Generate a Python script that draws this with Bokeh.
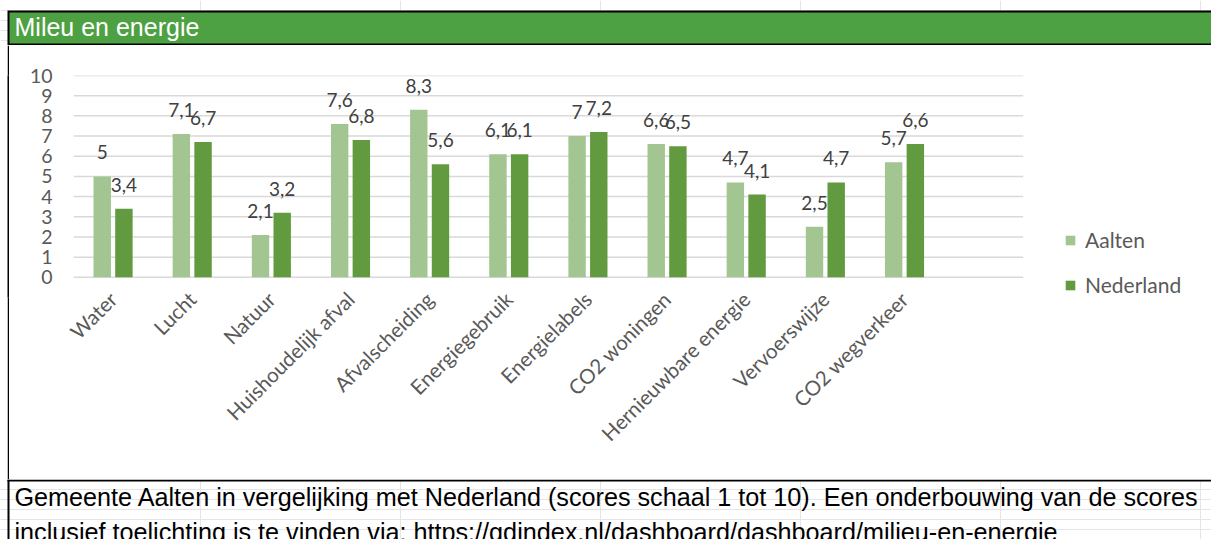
from math import pi
from bokeh.plotting import figure
from bokeh.models import (ColumnDataSource, FactorRange, Range1d, FixedTicker, Legend,
                          LegendItem, Spacer)
from bokeh.transform import dodge
from bokeh.layouts import row, column
from bokeh.core.properties import value
from bokeh.embed import file_html
from bokeh.resources import INLINE

# ---------------- data ----------------
categories = ["Water", "Lucht", "Natuur", "Huishoudelijk afval", "Afvalscheiding",
              "Energiegebruik", "Energielabels", "CO2 woningen", "Hernieuwbare energie",
              "Vervoerswijze", "CO2 wegverkeer"]
aalten = [5, 7.1, 2.1, 7.6, 8.3, 6.1, 7, 6.6, 4.7, 2.5, 5.7]
nederland = [3.4, 6.7, 3.2, 6.8, 5.6, 6.1, 7.2, 6.5, 4.1, 4.7, 6.6]
y_ticks = [0, 1, 2, 3, 4, 5, 6, 7, 8, 9, 10]
series_names = ["Aalten", "Nederland"]
title_text = "Mileu en energie"
caption_lines = [
    "Gemeente Aalten in vergelijking met Nederland (scores schaal 1 tot 10). Een onderbouwing van de scores",
    "inclusief toelichting is te vinden via: https://gdindex.nl/dashboard/dashboard/milieu-en-energie",
]


def fmt(v):
    return f"{v:g}".replace(".", ",")


LIGHT = "#A3C591"
DARK = "#629A3F"
HEADER = "#4EA143"
AXIS_TXT = "#595959"
LBL_TXT = "#404040"
GRID = "#D9D9D9"

TW = 1211
common = dict(toolbar_location=None, output_backend="svg")


def box_fig(height):
    return figure(width=TW, height=height, x_range=Range1d(0, TW), y_range=Range1d(height, 0),
                  x_axis_location=None, y_axis_location=None, min_border=0,
                  outline_line_color=None, background_fill_color="white",
                  border_fill_color="white", **common)


# ---------------- header (page y 0..45) ----------------
header = box_fig(45)
header.quad(left=[7], right=[TW], top=[10], bottom=[45], fill_color="black", line_color=None)
header.quad(left=[9], right=[TW], top=[12], bottom=[43], fill_color=HEADER, line_color=None)
header.text(x=[14], y=[26], text=[title_text], text_font=value("Liberation Sans"),
            text_font_size="25px", text_color="white", text_baseline="alphabetic")

# ---------------- chart (page y 45..479) ----------------
# one empty slot after the categories (as in the source chart) plus room for the legend
blank_slots = [" ", "  ", "   "]
factors = categories + blank_slots
src = ColumnDataSource(dict(
    cat=categories, aalten=aalten, nederland=nederland,
    a_lbl=[fmt(v) for v in aalten], n_lbl=[fmt(v) for v in nederland],
))
grid_src = ColumnDataSource(dict(
    y=y_ticks, g0=[categories[0]] * len(y_ticks), g1=[blank_slots[0]] * len(y_ticks),
))
CW = TW - 9
p = figure(width=CW, height=434, x_range=FactorRange(factors=factors),
           y_range=Range1d(-1, 10), min_border_left=64, min_border_right=30,
           min_border_top=30, min_border_bottom=182, outline_line_color=None, **common)

p.segment(x0=dodge("g0", -0.5, range=p.x_range), x1=dodge("g1", 0.5, range=p.x_range),
          y0="y", y1="y", source=grid_src, line_color=GRID, line_width=1.5)

off = 0.137
bw = 0.22
ra = p.vbar(x=dodge("cat", -off, range=p.x_range), top="aalten", width=bw, source=src,
            fill_color=LIGHT, line_color=None)
rn = p.vbar(x=dodge("cat", off, range=p.x_range), top="nederland", width=bw, source=src,
            fill_color=DARK, line_color=None)

for key, lbl, o in (("aalten", "a_lbl", -off), ("nederland", "n_lbl", off)):
    p.text(x=dodge("cat", o, range=p.x_range), y=key, text=lbl, source=src,
           text_align="center", text_baseline="alphabetic", y_offset=-24,
           text_font=value("Lato"), text_font_size="19px", text_color=LBL_TXT)

legend = Legend(items=[LegendItem(label=series_names[0], renderers=[ra]),
                       LegendItem(label=series_names[1], renderers=[rn])],
                location=(991, 0), orientation="vertical", glyph_width=12, glyph_height=12,
                label_standoff=9, label_height=25, spacing=20, padding=0, margin=0,
                border_line_color=None, background_fill_alpha=0,
                label_text_font="Lato", label_text_font_size="21px",
                label_text_color=AXIS_TXT)
p.add_layout(legend)

p.yaxis.ticker = FixedTicker(ticks=y_ticks)
p.yaxis.axis_line_color = None
p.yaxis.major_tick_line_color = None
p.yaxis.minor_tick_line_color = None
p.yaxis.major_tick_out = 0
p.yaxis.major_tick_in = 0
p.yaxis.major_label_standoff = 21
p.yaxis.major_label_text_font = "Lato"
p.yaxis.major_label_text_font_size = "19.5px"
p.yaxis.major_label_text_color = AXIS_TXT

p.xaxis.axis_line_color = None
p.xaxis.major_tick_line_color = None
p.xaxis.minor_tick_line_color = None
p.xaxis.major_tick_out = 0
p.xaxis.major_tick_in = 0
p.xaxis.major_label_orientation = pi / 4
p.xaxis.major_label_standoff = -2
p.xaxis.major_label_text_font = "Lato"
p.xaxis.major_label_text_font_size = "20.5px"
p.xaxis.major_label_text_color = AXIS_TXT

p.xgrid.grid_line_color = None
p.ygrid.grid_line_color = None

left_white = Spacer(width=7, height=434)
left_black = figure(width=2, height=434, x_axis_location=None, y_axis_location=None,
                    min_border=0, background_fill_color="black", border_fill_color="black",
                    outline_line_color=None, **common)
chart_row = row(left_white, left_black, p)

# ---------------- caption (page y 479..539) ----------------
cap = box_fig(60)
cap.quad(left=[7], right=[TW], top=[0], bottom=[2], fill_color="black", line_color=None)
cap.quad(left=[7], right=[9], top=[0], bottom=[60], fill_color="black", line_color=None)
cap.text(x=[14, 14], y=[17, 52], text=caption_lines, text_font=value("Liberation Sans"),
         text_font_size="25.2px", text_color="black", text_baseline="alphabetic")

layout = column(header, chart_row, cap)

open("out.html", "w").write(file_html(layout, INLINE))
